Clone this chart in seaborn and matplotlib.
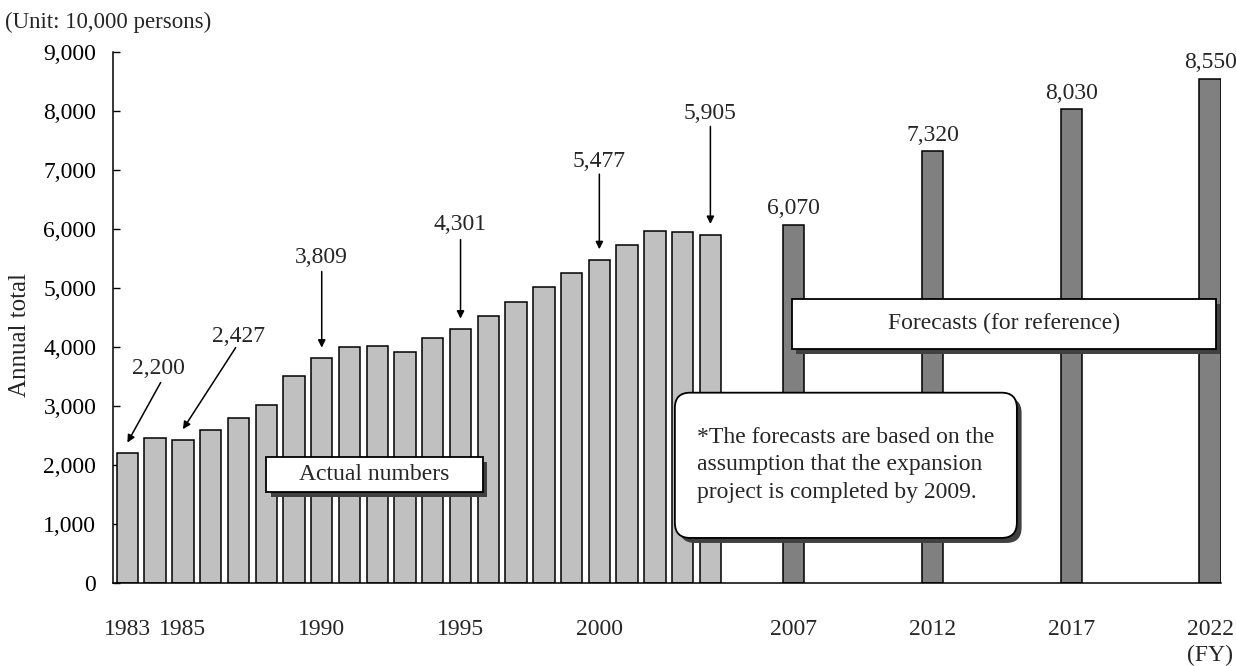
import numpy as np
import pandas as pd
import seaborn as sns
import matplotlib.pyplot as plt
from matplotlib.patches import Rectangle, FancyBboxPatch
from matplotlib.ticker import FuncFormatter

# data (unit: 10,000 persons)
actual_years = list(range(1983, 2005))
actual_values = [2200, 2465, 2427, 2600, 2800, 3020, 3510, 3809, 3995, 4010,
                 3920, 4145, 4301, 4525, 4765, 5010, 5255, 5477, 5730, 5965,
                 5950, 5905]
forecast_years = [2007, 2012, 2017, 2022]
forecast_values = [6070, 7320, 8030, 8550]
tick_years = [1983, 1985, 1990, 1995, 2000, 2007, 2012, 2017, 2022]
labelled_years = [1983, 1985, 1990, 1995, 2000, 2004]

df = pd.DataFrame({
    "year": actual_years + forecast_years,
    "value": actual_values + forecast_values,
    "kind": ["Actual"] * len(actual_years) + ["Forecast"] * len(forecast_years),
})

sns.set_theme(style="white")
plt.rcParams["font.family"] = ["Liberation Serif", "DejaVu Serif"]
plt.rcParams["font.size"] = 17

fig = plt.figure(figsize=(12.36, 6.66), dpi=100)
ax = fig.add_axes([0.0914, 0.1246, 0.8964, 0.7973])

sns.barplot(data=df, x="year", y="value", hue="kind", native_scale=True,
            palette={"Actual": "#c0c0c0", "Forecast": "#808080"},
            edgecolor="black", linewidth=1.1, width=0.77, dodge=False,
            saturation=1, legend=False, ax=ax)

ax.set_xlim(1982.48, 2022.39)
ax.set_ylim(0, 9000)
ax.set_xlabel("")
ax.set_ylabel("")
ax.set_xticks(tick_years)
ax.set_xticklabels([str(y) for y in tick_years], fontsize=17)
ax.set_yticks(range(0, 9001, 1000))
ax.yaxis.set_major_formatter(FuncFormatter(lambda v, p: f"{v:,.0f}"))
ax.tick_params(axis="x", length=0, pad=26, labelsize=17)
ax.tick_params(axis="y", direction="in", length=5, width=1, pad=12,
               labelsize=17, left=True, colors="black")
for s in ["top", "right"]:
    ax.spines[s].set_visible(False)
for s in ["left", "bottom"]:
    ax.spines[s].set_color("black")
    ax.spines[s].set_linewidth(1.1)

# forecast value labels
for yr, v in zip(forecast_years, forecast_values):
    ax.annotate(f"{v:,}", (yr, v), xytext=(0, 4), textcoords="offset points",
                ha="center", va="bottom", fontsize=17)

# labelled actual values with arrows
lookup = dict(zip(actual_years, actual_values))
text_pos = [(1984.1, 3630), (1987.0, 4180), (1990, 5520), (1995, 6080),
            (2000, 7150), (2004, 7950)]
arrow_start = [(1984.2, 3400), (1986.9, 3990), (1990, 5280), (1995, 5820),
               (2000, 6930), (2004, 7740)]
for yr, tp, st in zip(labelled_years, text_pos, arrow_start):
    v = lookup[yr]
    ax.text(tp[0], tp[1], f"{v:,}", ha="center", va="center", fontsize=17)
    ax.annotate("", xy=(yr, v + 180), xytext=st,
                arrowprops=dict(arrowstyle="-|>", color="black", lw=1.1,
                                mutation_scale=11, shrinkA=0, shrinkB=0))

# boxes (shadow offset ~5px)
sx, sy = 0.17, -85
def square_box(x0, y0, w, h, label, tx, ty):
    ax.add_patch(Rectangle((x0 + sx, y0 + sy), w, h, fc="#404040", ec="none", zorder=6))
    ax.add_patch(Rectangle((x0, y0), w, h, fc="white", ec="black", lw=1.3, zorder=7))
    ax.text(tx, ty, label, ha="center", va="center", fontsize=17, zorder=8)

square_box(1988.0, 1545, 7.8, 594, "Actual numbers", 1991.9, 1842)
square_box(2006.93, 3973, 15.27, 849, "Forecasts (for reference)", 2014.57, 4397)

aspect = 471
for dx, dy, fc, ec, z in [(sx, sy, "#404040", "none", 6), (0, 0, "white", "black", 7)]:
    ax.add_patch(FancyBboxPatch((2002.72 + dx, 764 + dy), 12.32, 2462,
                                boxstyle="round,pad=0,rounding_size=0.55",
                                mutation_aspect=aspect, fc=fc, ec=ec, lw=1.3, zorder=z))
ax.text(2003.52, 2003,
        "*The forecasts are based on the\nassumption that the expansion\nproject is completed by 2009.",
        ha="left", va="center", fontsize=17, linespacing=1.4, zorder=8)

fig.text(5 / 1236, 1 - 22 / 666, "(Unit: 10,000 persons)", ha="left", va="center", fontsize=16.5)
fig.text(20 / 1236, 1 - 335 / 666, "Annual total", ha="center", va="center",
         rotation=90, fontsize=18)
fig.text(1210 / 1236, 1 - 655 / 666, "(FY)", ha="center", va="center", fontsize=17)

fig.savefig("out.png", dpi=100)
